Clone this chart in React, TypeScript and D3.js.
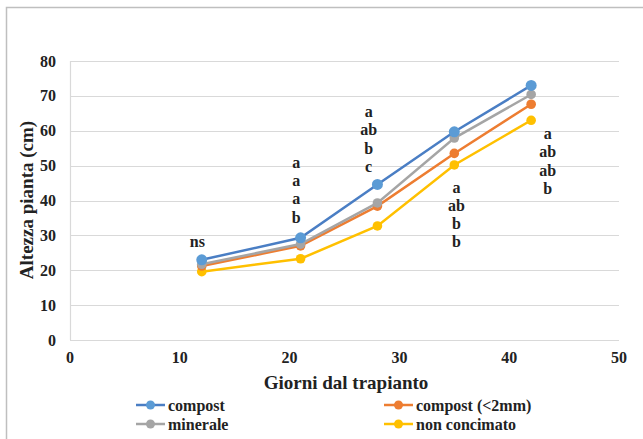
import { useEffect, useRef } from 'react'
import * as d3 from 'd3'

const days = [12, 21, 28, 35, 42]
const compost = [23, 29.3, 44.6, 59.7, 73]
const compostFine = [21.2, 27, 38.4, 53.5, 67.6]
const minerale = [21.7, 27.5, 39.3, 57.9, 70.4]
const nonConcimato = [19.6, 23.3, 32.7, 50.2, 63]

const seriesNames = ['compost', 'compost (<2mm)', 'minerale', 'non concimato']
const lineColors = ['#4a7ec4', '#ed7d31', '#a5a5a5', '#ffc000']
const markerColors = ['#5b9bd5', '#ed7d31', '#a5a5a5', '#ffc000']

const xTicks = [0, 10, 20, 30, 40, 50]
const yTicks = [0, 10, 20, 30, 40, 50, 60, 70, 80]

// significance letters: x position (days) and baseline of first line (cm)
const letterGroups: { x: number; y: number; lines: string[] }[] = [
  { x: 11.6, y: 26.7, lines: ['ns'] },
  { x: 20.6, y: 49.3, lines: ['a', 'a', 'a', 'b'] },
  { x: 27.2, y: 63.9, lines: ['a', 'ab', 'b', 'c'] },
  { x: 35.2, y: 42.2, lines: ['a', 'ab', 'b', 'b'] },
  { x: 43.5, y: 57.6, lines: ['a', 'ab', 'ab', 'b'] },
]

const W = 643
const H = 439
const FONT = 'Liberation Serif, Times New Roman, serif'

export default function App() {
  const svgRef = useRef<SVGSVGElement>(null)

  useEffect(() => {
    if (!svgRef.current) return
    const svg = d3.select(svgRef.current)
    svg.selectAll('*').remove()

    const x = d3.scaleLinear().domain([0, 50]).range([70, 619])
    const y = d3.scaleLinear().domain([0, 80]).range([340, 61])

    // outer frame (cropped: only left and top show)
    svg.append('path')
      .attr('d', `M6.5,${H} V7.5 H${W}`)
      .attr('fill', 'none')
      .attr('stroke', '#bfbfbf')
      .attr('stroke-width', 1.5)

    // gridlines
    svg.append('g')
      .selectAll('line')
      .data(yTicks)
      .enter()
      .append('line')
      .attr('x1', x(0))
      .attr('x2', x(50))
      .attr('y1', d => Math.round(y(d)) + 0.5)
      .attr('y2', d => Math.round(y(d)) + 0.5)
      .attr('stroke', '#d9d9d9')
      .attr('stroke-width', 1.2)

    svg.append('line')
      .attr('x1', x(0) + 0.5)
      .attr('x2', x(0) + 0.5)
      .attr('y1', y(80))
      .attr('y2', y(0))
      .attr('stroke', '#d9d9d9')
      .attr('stroke-width', 1.2)

    const txt = (sel: any, size: number) =>
      sel
        .attr('font-family', FONT)
        .attr('font-weight', 'bold')
        .attr('font-size', size)
        .attr('fill', '#222')

    // tick labels
    txt(svg.append('g')
      .selectAll('text')
      .data(yTicks)
      .enter()
      .append('text')
      .attr('x', 56)
      .attr('y', d => y(d))
      .attr('dy', '0.35em')
      .attr('text-anchor', 'end'), 16)
      .text(d => d)

    txt(svg.append('g')
      .selectAll('text')
      .data(xTicks)
      .enter()
      .append('text')
      .attr('x', d => x(d))
      .attr('y', 363)
      .attr('text-anchor', 'middle'), 16)
      .text(d => d)

    // axis titles
    txt(svg.append('text')
      .attr('x', 346)
      .attr('y', 389)
      .attr('text-anchor', 'middle'), 19)
      .text('Giorni dal trapianto')

    txt(svg.append('text')
      .attr('transform', 'translate(33,200) rotate(-90)')
      .attr('text-anchor', 'middle'), 19)
      .text('Altezza pianta (cm)')

    // series
    const allSeries = [compost, compostFine, minerale, nonConcimato]
    const drawOrder = [3, 1, 2, 0]
    const line = d3.line<number>()
      .x((_, i) => x(days[i]))
      .y(d => y(d))

    drawOrder.forEach(si => {
      const vals = allSeries[si]
      const g = svg.append('g')
      g.append('path')
        .datum(vals)
        .attr('d', line)
        .attr('fill', 'none')
        .attr('stroke', lineColors[si])
        .attr('stroke-width', 2.5)
      g.selectAll('circle')
        .data(vals)
        .enter()
        .append('circle')
        .attr('cx', (_, i) => x(days[i]))
        .attr('cy', d => y(d))
        .attr('r', si === 0 ? 5.5 : 4.8)
        .attr('fill', markerColors[si])
    })

    // significance letters
    letterGroups.forEach(grp => {
      const t = svg.append('g')
      grp.lines.forEach((s, i) => {
        txt(t.append('text')
          .attr('x', x(grp.x))
          .attr('y', y(grp.y) + i * 18.2)
          .attr('text-anchor', 'middle'), 16)
          .text(s)
      })
    })

    // legend
    const legendPos = [
      { x: 136, y: 405 },
      { x: 384, y: 405 },
      { x: 136, y: 424 },
      { x: 384, y: 424 },
    ]
    seriesNames.forEach((name, i) => {
      const p = legendPos[i]
      const g = svg.append('g')
      g.append('line')
        .attr('x1', p.x)
        .attr('x2', p.x + 29)
        .attr('y1', p.y)
        .attr('y2', p.y)
        .attr('stroke', lineColors[i])
        .attr('stroke-width', 2.5)
      g.append('circle')
        .attr('cx', p.x + 14.5)
        .attr('cy', p.y)
        .attr('r', 4.5)
        .attr('fill', markerColors[i])
      txt(g.append('text')
        .attr('x', p.x + 32)
        .attr('y', p.y)
        .attr('dy', '0.35em'), 16)
        .text(name)
    })
  }, [])

  return (
    <svg
      ref={svgRef}
      width={W}
      height={H}
      style={{ position: 'absolute', left: 0, top: 0, background: '#fff' }}
    />
  )
}
